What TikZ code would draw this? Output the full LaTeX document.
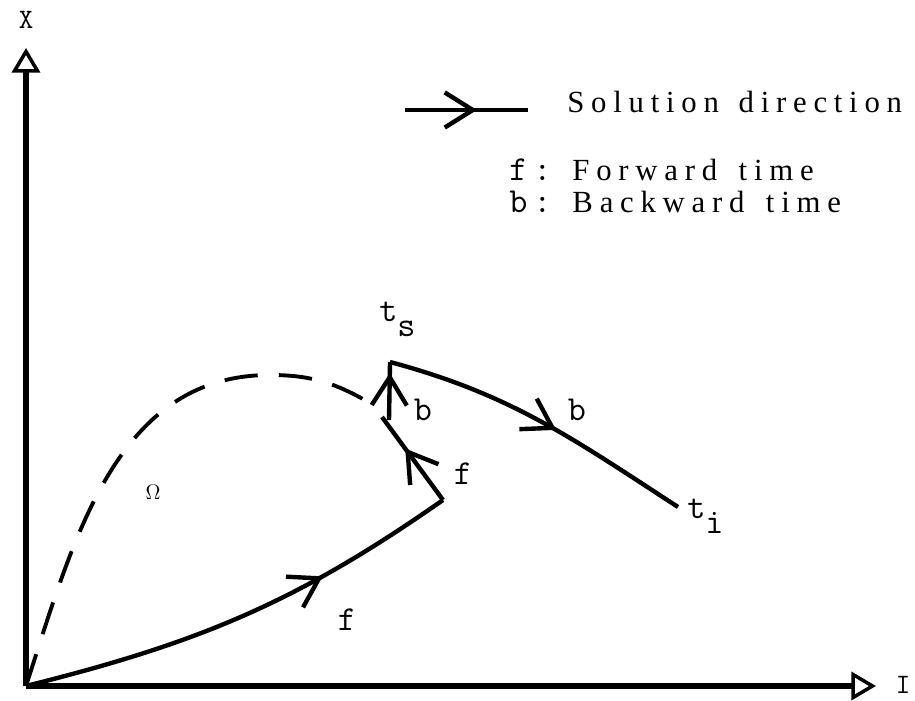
\documentclass[tikz,border=0pt]{standalone}
\usepackage{fontspec}
\newfontfamily\legendfont[LetterSpace=22]{Liberation Serif}
\usetikzlibrary{arrows.meta,decorations.markings}
\begin{document}
\begin{tikzpicture}[x=0.02cm,y=0.02cm]
    \tikzset{
        axisline/.style={line width=3.1pt, -{Triangle[open, length=14pt, width=16pt, line width=2pt]}},
        traj/.style={line width=2.5pt},
        dashline/.style={line width=2.2pt, dash pattern=on 19pt off 12pt},
        midarrow/.style={postaction={decorate, decoration={markings,
            mark=at position #1 with {\arrow{Straight Barb[length=16pt, width=20pt, line width=2.5pt]}}}}},
        lbl/.style={font=\fontsize{20}{22}\selectfont\ttfamily, inner sep=0pt},
        axlbl/.style={font=\fontsize{16}{18}\selectfont\ttfamily, inner sep=0pt},
        legtext/.style={font=\legendfont\fontsize{17.5}{20}\selectfont, inner sep=0pt, anchor=base west}
    }
    \useasboundingbox (0,0) rectangle (915,700);
    % points of the solution paths
    \coordinate (o) at (26,14);
    \coordinate (xend) at (876,14);
    \coordinate (yend) at (26,652);
    \coordinate (turn) at (443,200);
    \coordinate (back) at (382,283);
    \coordinate (foot) at (389,280);
    \coordinate (ts) at (390,338);
    \coordinate (ti) at (678,193);
    \coordinate (top) at (270,325);
    \coordinate (dend) at (370,297);
    % axes
    \draw[axisline] (o) -- (yend);
    \draw[axisline] (o) -- (xend);
    \draw node[axlbl] (xlab) at (26,680) {X};
    \draw node[axlbl] (ilab) at (903,15) {I};
    % boundary of Omega
    \draw[dashline] (o) to[out=72, in=180] (top) to[out=0, in=150] (dend);
    % forward and backward paths
    \draw[traj, midarrow=0.69] (o) to[out=14, in=215] (turn);
    \draw[traj, midarrow=0.62] (turn) -- (back);
    \draw[traj, midarrow=0.81] (foot) -- (ts);
    \draw[traj, midarrow=0.555] (ts) to[out=-15, in=147] (ti);
    % labels
    \foreach \name/\x/\y/\txt in {%
        fone/347/80/f, ftwo/463/226/f, bone/423/290/b, btwo/577/290/b%
    }
    {
        \draw node[lbl] (\name) at (\x,\y) {\txt};
    }
    \draw node[lbl, anchor=base west] (tslab) at (379,378) {t\raisebox{-8.5pt}{s}};
    \draw node[lbl, anchor=base west] (tilab) at (687,182) {t\raisebox{-9pt}{i}};
    \draw node[font=\fontsize{12}{14}\selectfont, inner sep=0pt] (omega) at (153,208) {$\Omega$};
    % legend
    \coordinate (lega) at (405,590);
    \coordinate (legb) at (528,590);
    \draw[traj, midarrow=0.585] (lega) -- (legb);
    \draw node[legtext] (soldir) at (567,587) {Solution\hspace{3pt} direction};
    \draw node[legtext] (fwd) at (509,519) {{\ttfamily\fontsize{20}{22}\selectfont f\,:}\hspace{12pt}Forward\hspace{4pt} time};
    \draw node[legtext] (bwd) at (509,487) {{\ttfamily\fontsize{20}{22}\selectfont b\,:}\hspace{12pt}Backward\hspace{4pt} time};
\end{tikzpicture}
\end{document}
